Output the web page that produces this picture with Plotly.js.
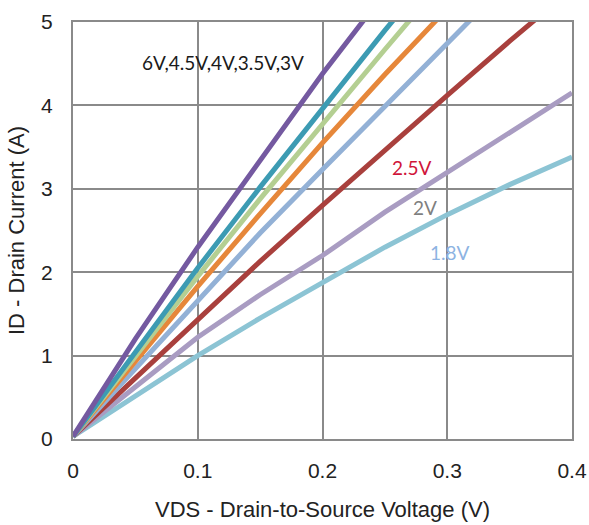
<!DOCTYPE html>
<html>
<head>
<meta charset="utf-8">
<script src="https://cdn.plot.ly/plotly-3.0.1.min.js"></script>
<style>html,body{margin:0;padding:0;background:#fff;}#chart{width:589px;height:525px;}</style>
</head>
<body>
<div id="chart"></div>
<script>
var vds = [0, 0.05, 0.1, 0.15, 0.2, 0.25, 0.3, 0.35, 0.4];
var seriesNames = ["1.8V", "2V", "2.5V", "3V", "3.5V", "4V", "4.5V", "6V"];
var id_18 = [0.03, 0.52, 1.0, 1.45, 1.87, 2.3, 2.69, 3.05, 3.38];
var id_20 = [0.03, 0.62, 1.22, 1.73, 2.2, 2.72, 3.2, 3.68, 4.15];
var id_25 = [0.03, 0.73, 1.45, 2.13, 2.8, 3.47, 4.12, 4.77, 5.4];
var id_30 = [0.03, 0.85, 1.67, 2.47, 3.23, 4.0, 4.75, 5.5, 6.2];
var id_35 = [0.03, 0.93, 1.83, 2.7, 3.55, 4.37, 5.18, 5.95, 6.7];
var id_40 = [0.03, 1.0, 1.95, 2.88, 3.78, 4.67, 5.55, 6.4, 7.2];
var id_45 = [0.03, 1.05, 2.05, 3.02, 3.97, 4.9, 5.8, 6.7, 7.5];
var id_60 = [0.03, 1.2, 2.3, 3.35, 4.38, 5.35, 6.3, 7.2, 8.1];
var seriesValues = [id_18, id_20, id_25, id_30, id_35, id_40, id_45, id_60];
var colors = ["#8CC4D4", "#A99CC2", "#A9403D", "#93B1D6", "#E6873A", "#B4CF92", "#3C9BB3", "#7459A0"];

var labelTexts = ["6V,4.5V,4V,3.5V,3V", "2.5V", "2V", "1.8V"];
var labelX = [0.120, 0.272, 0.282, 0.302];
var labelY = [4.51, 3.26, 2.77, 2.24];
var labelColors = ["#1a1a1a", "#D0153A", "#7F7F7F", "#8DB3E2"];

var traces = seriesValues.map(function (vals, i) {
  return {
    x: vds, y: vals, name: seriesNames[i], type: "scatter", mode: "lines",
    line: {color: colors[i], width: 5}, cliponaxis: true, hoverinfo: "skip"
  };
});

var annotations = labelTexts.map(function (t, i) {
  return {
    x: labelX[i], y: labelY[i], xref: "x", yref: "y", text: t, showarrow: false,
    font: {family: "Lato, Open Sans, sans-serif", size: 19, color: labelColors[i]}
  };
});

var axisFont = "Liberation Sans, Arial, sans-serif";
var layout = {
  width: 589, height: 525,
  margin: {l: 73, r: 17, t: 22, b: 86},
  paper_bgcolor: "#fff", plot_bgcolor: "#fff",
  showlegend: false,
  annotations: annotations,
  xaxis: {
    range: [0, 0.4], tickvals: [0, 0.1, 0.2, 0.3, 0.4],
    ticktext: ["0", "0.1", "0.2", "0.3", "0.4"],
    showgrid: true, gridcolor: "#8a8a8a", gridwidth: 2,
    showline: true, linecolor: "#8a8a8a", linewidth: 2, mirror: true,
    zeroline: false, ticks: "", ticklabelstandoff: 12,
    tickfont: {family: axisFont, size: 21, color: "#222"},
    title: {text: "VDS - Drain-to-Source Voltage (V)", standoff: 20,
      font: {family: axisFont, size: 22, color: "#222"}}
  },
  yaxis: {
    range: [0, 5], dtick: 1,
    showgrid: true, gridcolor: "#8a8a8a", gridwidth: 2,
    showline: true, linecolor: "#8a8a8a", linewidth: 2, mirror: true,
    zeroline: false, ticks: "", ticklabelstandoff: 14,
    tickfont: {family: axisFont, size: 21, color: "#222"},
    title: {text: "ID - Drain Current (A)", standoff: 10,
      font: {family: axisFont, size: 22, color: "#222"}}
  }
};

Plotly.newPlot("chart", traces, layout, {staticPlot: true, displayModeBar: false});
</script>
</body>
</html>
